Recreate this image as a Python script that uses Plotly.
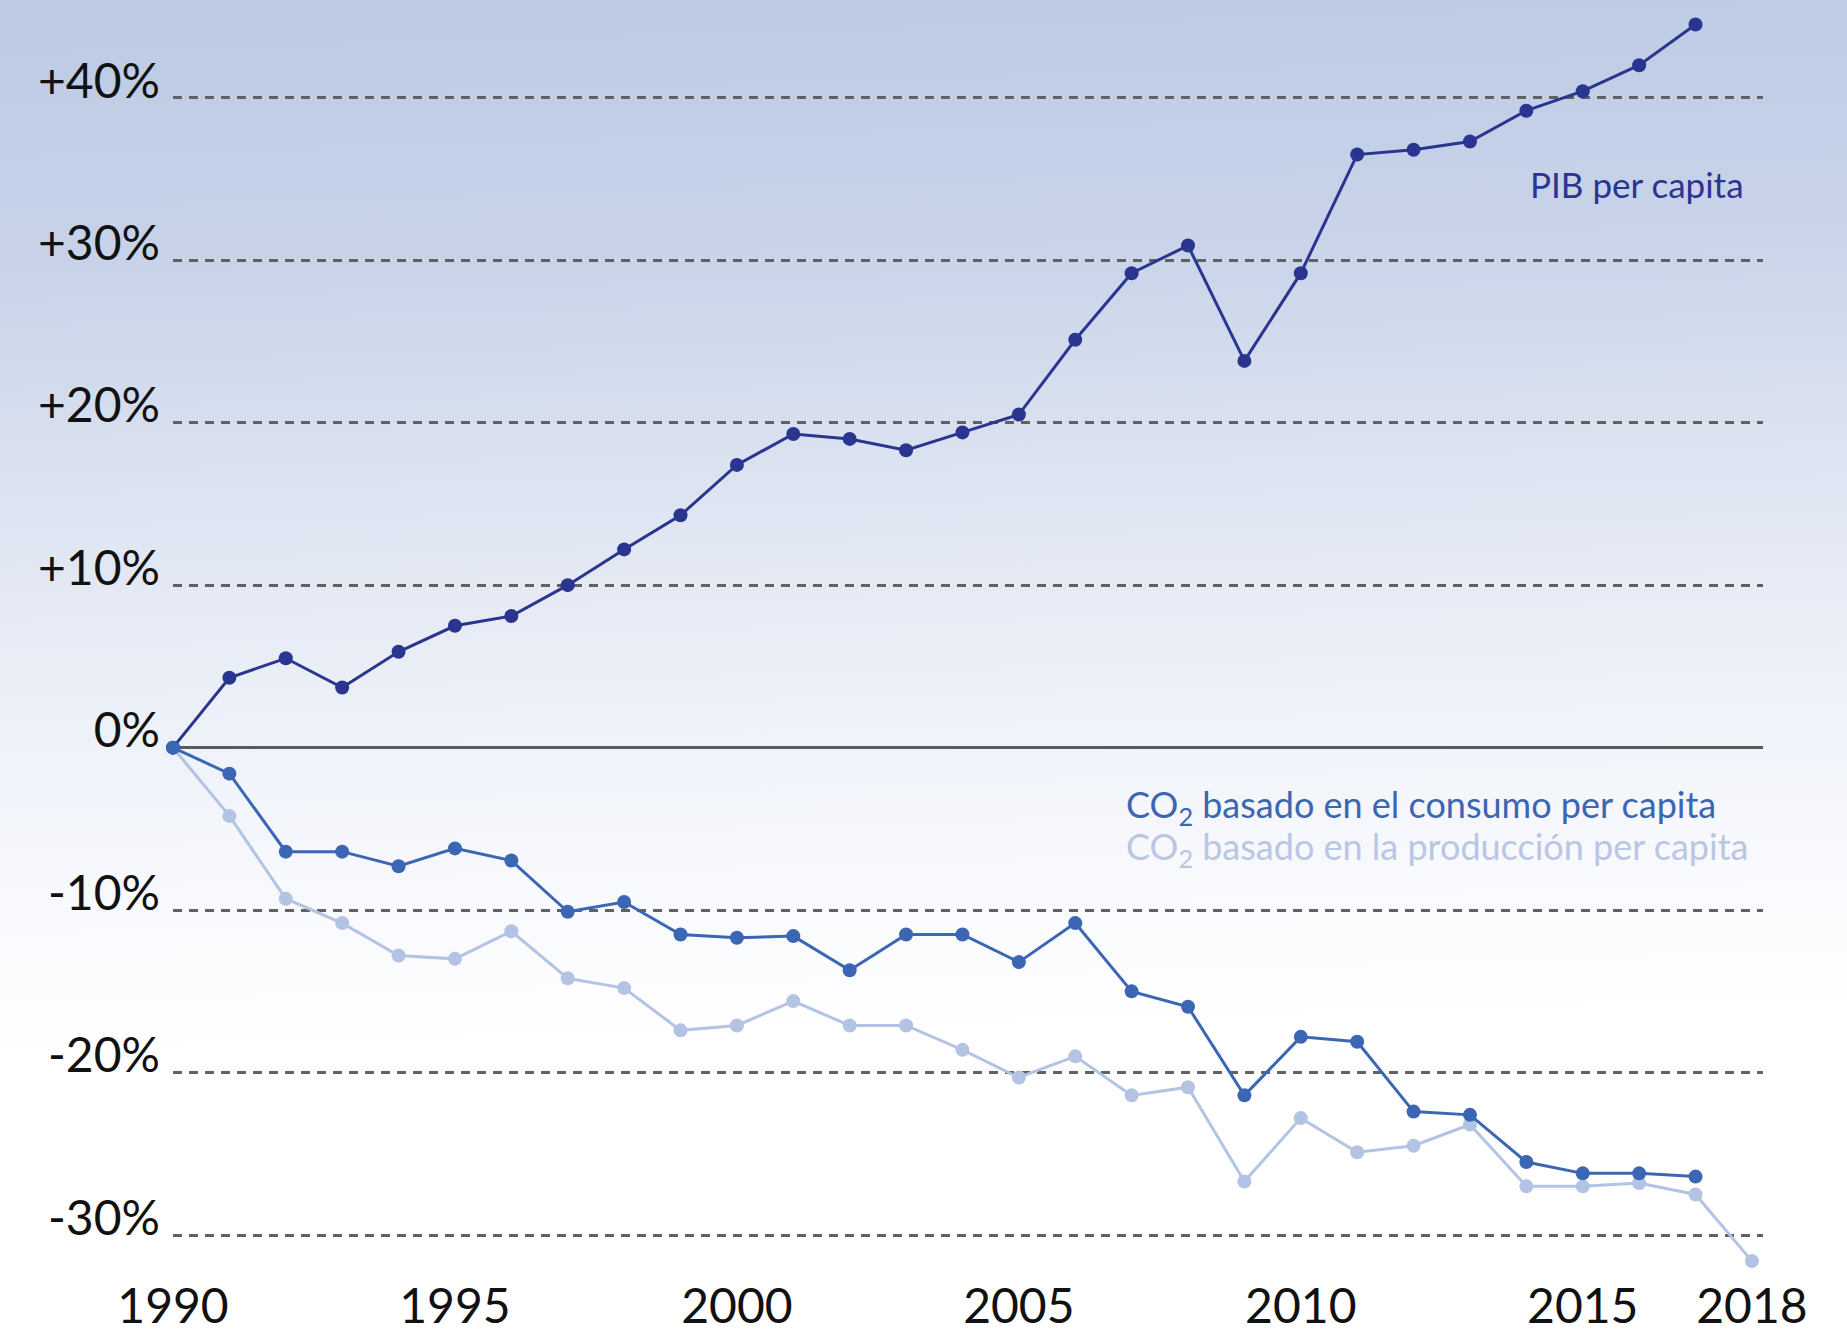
import base64
import plotly.graph_objects as go

years = list(range(1990, 2019))
pib = [0, 4.3, 5.5, 3.7, 5.9, 7.5, 8.1, 10.0, 12.2, 14.3, 17.4, 19.3, 19.0, 18.3, 19.4,
       20.5, 25.1, 29.2, 30.9, 23.8, 29.2, 36.5, 36.8, 37.3, 39.2, 40.4, 42.0, 44.5, None]
co2_consumo = [0, -1.6, -6.4, -6.4, -7.3, -6.2, -6.95, -10.1, -9.5, -11.5, -11.7, -11.6, -13.7,
               -11.5, -11.5, -13.2, -10.8, -15.0, -15.95, -21.4, -17.8, -18.1, -22.4, -22.6,
               -25.5, -26.2, -26.2, -26.4, None]
co2_produccion = [0, -4.2, -9.3, -10.8, -12.8, -13.0, -11.3, -14.2, -14.8, -17.4, -17.1, -15.6,
                  -17.1, -17.1, -18.6, -20.3, -19.0, -21.4, -20.9, -26.7, -22.8, -24.9, -24.5,
                  -23.2, -27.0, -27.0, -26.8, -27.5, -31.6]

x_tickvals = [1990, 1995, 2000, 2005, 2010, 2015, 2018]
x_ticktext = ["1990", "1995", "2000", "2005", "2010", "2015", "2018"]
y_tickvals = [-30, -20, -10, 0, 10, 20, 30, 40]
y_ticktext = ["-30%", "-20%", "-10%", "0%", "+10%", "+20%", "+30%", "+40%"]

C_PIB = "#2a3590"
C_CONS = "#3b66b4"
C_PROD = "#b3c3e3"
FONT = "Lato"

W, H = 1847, 1333
ML, MR, MT, MB = 173, 84, 0, 63
PW, PH = W - ML - MR, H - MT - MB
Y0 = 750.0
PX_PER = 16.3

svg = f'''<svg xmlns="http://www.w3.org/2000/svg" width="{W}" height="{H}" viewBox="0 0 {W} {H}" preserveAspectRatio="none">
<defs><linearGradient id="g" x1="0" y1="0" x2="0.04" y2="1">
<stop offset="0" stop-color="#bccae4"/>
<stop offset="0.2" stop-color="#c8d3e9"/>
<stop offset="0.34" stop-color="#d8e0ef"/>
<stop offset="0.45" stop-color="#e4e9f4"/>
<stop offset="0.56" stop-color="#eef2f9"/>
<stop offset="0.68" stop-color="#f8f9fd"/>
<stop offset="0.8" stop-color="#ffffff"/>
<stop offset="1" stop-color="#ffffff"/>
</linearGradient></defs>
<rect x="0" y="0" width="{W}" height="{H}" fill="url(#g)"/></svg>'''
bg_src = "data:image/svg+xml;base64," + base64.b64encode(svg.encode()).decode()

fig = go.Figure()
fig.add_trace(go.Scatter(x=years, y=co2_produccion, mode="lines+markers",
                         line=dict(color=C_PROD, width=3), marker=dict(color=C_PROD, size=14),
                         cliponaxis=False, showlegend=False,
                         name="CO2 basado en la producción per capita"))
fig.add_trace(go.Scatter(x=years, y=pib, mode="lines+markers",
                         line=dict(color=C_PIB, width=3), marker=dict(color=C_PIB, size=14),
                         cliponaxis=False, showlegend=False, name="PIB per capita"))
fig.add_trace(go.Scatter(x=years, y=co2_consumo, mode="lines+markers",
                         line=dict(color=C_CONS, width=3), marker=dict(color=C_CONS, size=14),
                         cliponaxis=False, showlegend=False,
                         name="CO2 basado en el consumo per capita"))

fig.add_annotation(x=2017.9, y=34.7, xref="x", yref="y", text="PIB per capita",
                   showarrow=False, xanchor="right", yanchor="middle",
                   font=dict(family=FONT, size=35, color=C_PIB))
fig.add_annotation(x=2006.86, y=-3.65, xref="x", yref="y",
                   text="CO<sub>2</sub> basado en el consumo per capita",
                   showarrow=False, xanchor="left", yanchor="middle",
                   font=dict(family=FONT, size=36, color=C_CONS))
fig.add_annotation(x=2006.86, y=-6.2, xref="x", yref="y",
                   text="CO<sub>2</sub> basado en la producción per capita",
                   showarrow=False, xanchor="left", yanchor="middle",
                   font=dict(family=FONT, size=36, color="#b9c6e4"))

fig.update_layout(
    width=W, height=H,
    margin=dict(l=ML, r=MR, t=MT, b=MB, pad=0),
    paper_bgcolor="white", plot_bgcolor="rgba(0,0,0,0)",
    font=dict(family=FONT, color="#111111"),
    images=[dict(source=bg_src, xref="paper", yref="paper",
                 x=-ML / PW, y=1 + MT / PH, sizex=W / PW, sizey=H / PH,
                 xanchor="left", yanchor="top", sizing="stretch", layer="below")],
    xaxis=dict(range=[1990, 1990 + PW / 56.39], tickvals=x_tickvals, ticktext=x_ticktext,
               showgrid=False, zeroline=False, showline=False, ticks="",
               tickfont=dict(family=FONT, size=48, color="#111111"), ticklabelstandoff=8),
    yaxis=dict(range=[-(PH - Y0) / PX_PER, Y0 / PX_PER], tickvals=y_tickvals,
               ticktext=y_ticktext, showgrid=True, gridcolor="#616161", gridwidth=2.5,
               griddash="9px,7px", zeroline=True, zerolinecolor="#5a5a5a", zerolinewidth=2.5,
               showline=False, ticks="", ticklabelshift=-17, ticklabelstandoff=12,
               tickfont=dict(family=FONT, size=48, color="#111111")),
)

fig.write_html("out.html", config={"displayModeBar": False},
               post_script="document.body.style.margin='0';")
